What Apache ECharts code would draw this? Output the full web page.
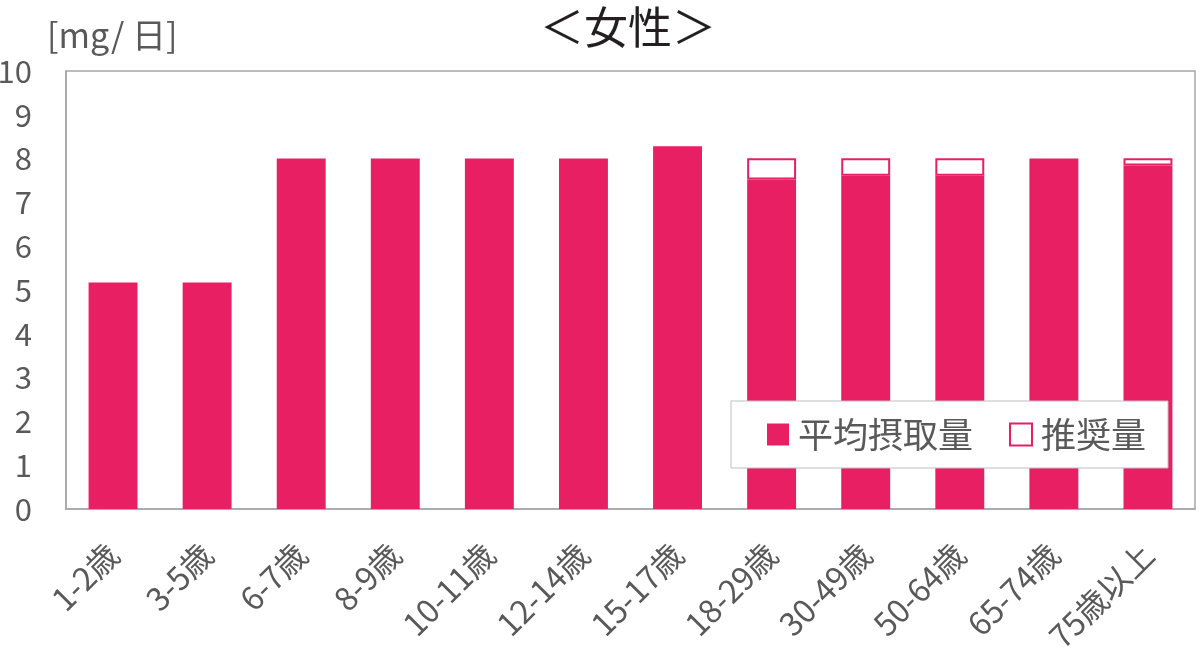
<!DOCTYPE html>
<html>
<head>
<meta charset="utf-8">
<script src="https://cdn.jsdelivr.net/npm/echarts@6/dist/echarts.min.js"></script>
<style>
html,body{margin:0;padding:0;background:#fff;}
#main{width:1200px;height:665px;}
</style>
</head>
<body>
<div id="main"></div>
<script>
// 年齢区分
var categories = ['1-2歳','3-5歳','6-7歳','8-9歳','10-11歳','12-14歳','15-17歳','18-29歳','30-49歳','50-64歳','65-74歳','75歳以上'];
// 平均摂取量 (mg/日)
var intake = [5.17, 5.17, 8, 8, 8, 8, 8.28, 7.52, 7.61, 7.61, 8, 7.84];
// 推奨量との差 (推奨量 - 平均摂取量, 足りない分だけ)
var recommendGap = [0, 0, 0, 0, 0, 0, 0, 0.49, 0.4, 0.4, 0, 0.17];
var yTicks = [0, 1, 2, 3, 4, 5, 6, 7, 8, 9, 10];

var FONT = '"Noto Sans CJK JP", "Noto Sans", sans-serif';
var PINK = '#e81f63';
var GRAY = '#595959';

var myChart = echarts.init(document.getElementById('main'));
var options = {
    backgroundColor: '#fff',
    animation: false,
    textStyle: { fontFamily: FONT },
    title: {
        text: '＜女性＞',
        left: 535,
        top: 0,
        textStyle: { fontFamily: FONT, fontSize: 44, fontWeight: 'normal', color: '#231f20' }
    },
    graphic: [
        {
            type: 'text',
            left: 47,
            top: 18,
            style: { text: '[mg/ 日]', fontFamily: FONT, fontSize: 34, fill: GRAY }
        }
    ],
    legend: {
        left: 731,
        top: 401,
        padding: [16, 22, 16, 36],
        backgroundColor: '#fff',
        borderColor: '#bfbfbf',
        borderWidth: 1,
        borderRadius: 0,
        itemGap: 36,
        itemWidth: 22,
        itemHeight: 22,
        icon: 'rect',
        textStyle: { fontFamily: FONT, fontSize: 35, color: GRAY, padding: [0, 0, 0, 4] },
        data: ['平均摂取量', '推奨量']
    },
    grid: {
        left: 66,
        right: 5,
        top: 71,
        bottom: 156,
        show: true,
        borderColor: '#a6a6a6',
        borderWidth: 1.5,
        containLabel: false,
        outerBoundsMode: 'none'
    },
    xAxis: {
        type: 'category',
        data: categories,
        axisLine: { show: true, lineStyle: { color: '#a6a6a6', width: 1.5 } },
        axisTick: { show: false },
        axisLabel: {
            rotate: 45,
            interval: 0,
            margin: 40,
            fontFamily: FONT,
            fontSize: 32,
            color: GRAY
        }
    },
    yAxis: {
        type: 'value',
        min: yTicks[0],
        max: yTicks[yTicks.length - 1],
        interval: 1,
        axisLine: { show: true, lineStyle: { color: '#a6a6a6', width: 1.5 } },
        axisTick: { show: false },
        splitLine: { show: false },
        axisLabel: {
            margin: 34,
            fontFamily: FONT,
            fontSize: 31,
            color: GRAY
        }
    },
    series: [
        {
            name: '平均摂取量',
            type: 'bar',
            stack: 'iron',
            barCategoryGap: '48%',
            itemStyle: { color: PINK },
            data: intake
        },
        {
            name: '推奨量',
            type: 'bar',
            stack: 'iron',
            itemStyle: { color: '#fff', borderColor: PINK, borderWidth: 2 },
            data: recommendGap.map(function (v) { return v > 0 ? v : '-'; })
        }
    ]
};
myChart.setOption(options);
</script>
</body>
</html>
